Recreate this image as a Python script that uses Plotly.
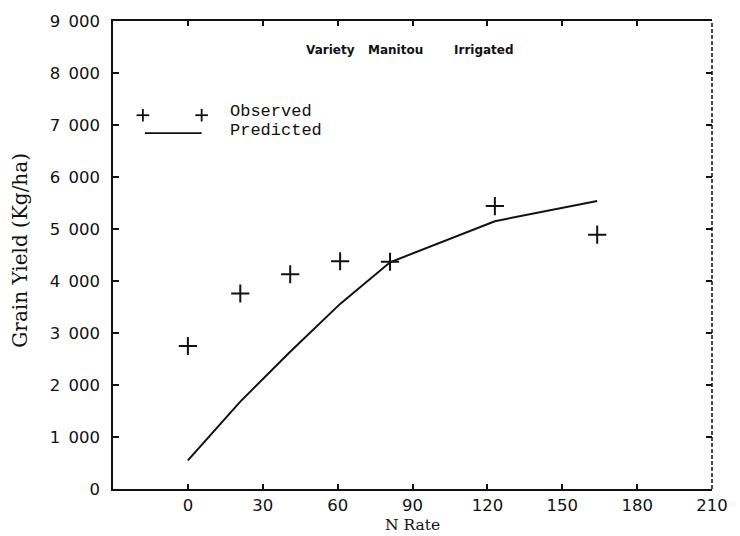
import plotly.graph_objects as go

# ---- data ----
n_rate = [0, 21, 41, 61, 81, 123, 164]
observed = [2750, 3760, 4130, 4380, 4370, 5440, 4890]
predicted = [550, 1680, 2640, 3560, 4360, 5150, 5540]

x_ticks = [0, 30, 60, 90, 120, 150, 180, 210]
x_ticktext = ["0", "30", "60", "90", "120", "150", "180", "210"]
y_ticks = [0, 1000, 2000, 3000, 4000, 5000, 6000, 7000, 8000, 9000]
y_ticktext = ["0", "1\u2002000", "2\u2002000", "3\u2002000", "4\u2002000",
              "5\u2002000", "6\u2002000", "7\u2002000", "8\u2002000", "9\u2002000"]

title_words = ["Variety", "Manitou", "Irrigated"]
legend_labels = ["Observed", "Predicted"]
x_title = "N Rate"
y_title = "Grain Yield (Kg/ha)"

INK = "#111111"
tick_font = dict(family="DejaVu Sans", size=16.5, color=INK)

fig = go.Figure()
fig.add_trace(go.Scatter(
    x=n_rate, y=predicted, mode="lines",
    line=dict(color=INK, width=2), showlegend=False, hoverinfo="skip"))
fig.add_trace(go.Scatter(
    x=n_rate, y=observed, mode="markers",
    marker=dict(symbol="cross-thin", size=13, color=INK,
                line=dict(width=2, color=INK)),
    showlegend=False, hoverinfo="skip"))
# empty trace so the right-hand tick axis is drawn
fig.add_trace(go.Scatter(x=[], y=[], yaxis="y2", showlegend=False))

# ---- custom legend, titles ----
shapes = []
annotations = []
for cx in (0.0499, 0.148):
    cy = 0.7987
    shapes.append(dict(type="line", xref="paper", yref="paper",
                       x0=cx - 0.0105, x1=cx + 0.0105, y0=cy, y1=cy,
                       line=dict(color=INK, width=1.8)))
    shapes.append(dict(type="line", xref="paper", yref="paper",
                       x0=cx, x1=cx, y0=cy - 0.0135, y1=cy + 0.0135,
                       line=dict(color=INK, width=1.8)))
shapes.append(dict(type="line", xref="paper", yref="paper",
                   x0=0.0532, x1=0.1481, y0=0.7606, y1=0.7606,
                   line=dict(color=INK, width=1.8)))
# dashed right border
shapes.append(dict(type="line", xref="paper", yref="paper",
                   x0=1, x1=1, y0=0, y1=1,
                   line=dict(color=INK, width=1.5, dash="4px,2px")))

for label, ly in zip(legend_labels, (0.8072, 0.767)):
    annotations.append(dict(text=label, xref="paper", yref="paper",
                            x=0.1913, y=ly, xanchor="left", yanchor="middle",
                            showarrow=False,
                            font=dict(family="Liberation Mono", size=17, color=INK)))

for word, px in zip(title_words, (0.363, 0.471, 0.619)):
    annotations.append(dict(text="<b>" + word + "</b>", xref="paper", yref="paper",
                            x=px, y=0.9386, xanchor="center", yanchor="middle",
                            showarrow=False,
                            font=dict(family="DejaVu Sans", size=12, color=INK)))

annotations.append(dict(text=x_title, xref="paper", yref="paper",
                        x=0.5, y=-0.0975, xanchor="center", yanchor="bottom",
                        showarrow=False, borderpad=0,
                        font=dict(family="DejaVu Serif", size=15.5, color=INK)))
annotations.append(dict(text=y_title, xref="paper", yref="paper",
                        x=-0.1547, y=0.51, xanchor="center", yanchor="middle",
                        textangle=-90, showarrow=False,
                        font=dict(family="DejaVu Serif", size=20, color=INK)))

fig.update_layout(
    width=740, height=536,
    margin=dict(l=113, r=26, t=17, b=47),
    paper_bgcolor="white", plot_bgcolor="white",
    showlegend=False,
    xaxis=dict(
        range=[-30, 210], tickvals=x_ticks, ticktext=x_ticktext,
        ticks="inside", ticklen=5, tickwidth=1.5, tickcolor=INK,
        showline=True, linewidth=1.5, linecolor=INK, mirror="ticks",
        showgrid=False, zeroline=False, tickfont=tick_font,
        ticklabelstandoff=0,
    ),
    yaxis=dict(
        range=[0, 9000], tickvals=y_ticks, ticktext=y_ticktext,
        ticks="inside", ticklen=6, tickwidth=1.5, tickcolor=INK,
        showline=True, linewidth=1.5, linecolor=INK, mirror=False,
        showgrid=False, zeroline=False, tickfont=tick_font,
        ticklabelstandoff=8,
    ),
    yaxis2=dict(
        range=[0, 9000], tickvals=y_ticks, overlaying="y", side="right",
        ticks="inside", ticklen=6, tickwidth=1.5, tickcolor=INK,
        showline=False, showgrid=False, zeroline=False, showticklabels=False,
    ),
    shapes=shapes,
    annotations=annotations,
)

fig.write_html("out.html")
